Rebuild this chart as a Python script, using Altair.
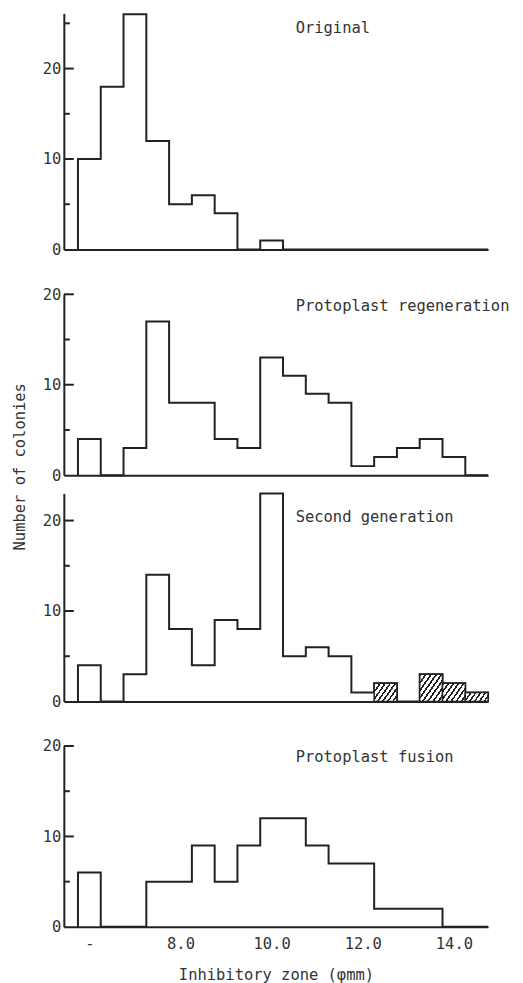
import math
import altair as alt
import pandas as pd

# ---------------- data ----------------
bin_centers = [6.0, 6.5, 7.0, 7.5, 8.0, 8.5, 9.0, 9.5, 10.0, 10.5,
               11.0, 11.5, 12.0, 12.5, 13.0, 13.5, 14.0, 14.5]
original = [10, 18, 26, 12, 5, 6, 4, 0, 1, 0, 0, 0, 0, 0, 0, 0, 0, 0]
regeneration = [4, 0, 3, 17, 8, 8, 4, 3, 13, 11, 9, 8, 1, 2, 3, 4, 2, 0]
second_gen = [4, 0, 3, 14, 8, 4, 9, 8, 23, 5, 6, 5, 1, 2, 0, 3, 2, 1]
fusion = [6, 0, 0, 5, 5, 9, 5, 9, 12, 12, 9, 7, 7, 2, 2, 2, 0, 0]
second_hatched = [12.5, 13.5, 14.0, 14.5]

x_tick_values = [6, 8, 10, 12, 14]
y_label_values = [0, 10, 20]
major_ticks = [10, 20]
minor_ticks = [5, 15, 25]

panel_titles = ["Original", "Protoplast regeneration", "Second generation", "Protoplast fusion"]

# ---------------- style ----------------
FONT = "DejaVu Sans Mono"
FS = 15.5
INK = "#222222"
TXT = "#333333"
BIN_W = 0.5
X_DOMAIN = [5.44, 14.75]
PX_PER_MM = 45.7
PX_PER_UNIT = 9.07
PLOT_W = (X_DOMAIN[1] - X_DOMAIN[0]) * PX_PER_MM


def step_frame(counts):
    xs, ys = [bin_centers[0] - BIN_W / 2], [0]
    for c, n in zip(bin_centers, counts):
        xs.append(c - BIN_W / 2)
        ys.append(n)
    xs.append(bin_centers[-1] + BIN_W / 2)
    ys.append(0)
    return pd.DataFrame({"x": xs, "y": ys})


def hatch_gradient(count, theta_deg=55, spacing=4.2):
    w = BIN_W * PX_PER_MM
    h = max(count, 0.5) * PX_PER_UNIT
    th = math.radians(theta_deg)
    s, c = math.sin(th), math.cos(th)
    D = w * s + h * c
    k = D / (w * w * s * s + h * h * c * c)
    a, b = w * s * k, h * c * k
    n = max(2, int(round(D / spacing)))
    stops = []
    for i in range(n):
        o0 = i / n
        o1 = (i + 0.38) / n
        o2 = (i + 1) / n
        stops += [
            alt.GradientStop(offset=o0, color=INK),
            alt.GradientStop(offset=o1, color=INK),
            alt.GradientStop(offset=o1, color="white"),
            alt.GradientStop(offset=o2, color="white"),
        ]
    return alt.LinearGradient(gradient="linear", stops=stops, x1=0, y1=0, x2=a, y2=b)


def panel(counts, ymax, title, title_y, top_gap=0.0, hatched=(), show_x=False, ytitle=None):
    plot_h = ymax * PX_PER_UNIT
    height = plot_h + top_gap
    xs = alt.Scale(domain=X_DOMAIN, nice=False, zero=False)
    ys = alt.Scale(domain=[0, ymax], nice=False, range=[height, top_gap])
    if show_x:
        xaxis = alt.Axis(values=x_tick_values, ticks=False, grid=False, domain=True,
                         domainColor=INK, domainWidth=2,
                         labelExpr="datum.value == 6 ? '-' : format(datum.value, '.1f')",
                         labelFont=FONT, labelFontSize=FS, labelColor=TXT, labelPadding=10,
                         title="Inhibitory zone (\u03c6mm)", titleFont=FONT, titleFontSize=FS,
                         titleFontWeight="normal", titleColor=TXT, titlePadding=15)
    else:
        xaxis = alt.Axis(labels=False, ticks=False, grid=False, domain=True,
                         domainColor=INK, domainWidth=2, title=None)
    yaxis = alt.Axis(values=y_label_values, ticks=False, grid=False, domain=True,
                     domainColor=INK, domainWidth=2, labelFont=FONT, labelFontSize=FS,
                     labelColor=TXT, labelPadding=3, title=None)

    line = alt.Chart(step_frame(counts)).mark_line(
        interpolate="step-after", color=INK, strokeWidth=2
    ).encode(
        x=alt.X("x:Q", scale=xs, axis=xaxis),
        y=alt.Y("y:Q", scale=ys, axis=yaxis),
    )

    layers = []
    for hc in hatched:
        n = counts[bin_centers.index(hc)]
        df = pd.DataFrame({"l": [hc - BIN_W / 2], "r": [hc + BIN_W / 2], "n": [n]})
        layers.append(
            alt.Chart(df).mark_bar(fill=hatch_gradient(n), stroke=INK, strokeWidth=1.5)
            .encode(x=alt.X("l:Q", scale=xs), x2="r:Q",
                    y=alt.Y("n:Q", scale=ys), y2=alt.datum(0))
        )

    maj = alt.Chart(pd.DataFrame({"v": [t for t in major_ticks if t <= ymax]})).mark_rule(
        color=INK, strokeWidth=2).encode(y=alt.Y("v:Q", scale=ys), x=alt.value(0), x2=alt.value(10))
    mnr = alt.Chart(pd.DataFrame({"v": [t for t in minor_ticks if t <= ymax]})).mark_rule(
        color=INK, strokeWidth=2).encode(y=alt.Y("v:Q", scale=ys), x=alt.value(0), x2=alt.value(6))

    ttl = alt.Chart(pd.DataFrame({"t": [title]})).mark_text(
        align="left", baseline="middle", font=FONT, fontSize=FS, color=TXT
    ).encode(x=alt.value(232.5), y=alt.value(top_gap + title_y), text="t:N")

    allayers = [line] + layers + [maj, mnr, ttl]
    if ytitle:
        yt = alt.Chart(pd.DataFrame({"t": [ytitle]})).mark_text(
            align="center", baseline="middle", angle=270, font=FONT, fontSize=FS, color=TXT
        ).encode(x=alt.value(-43.5), y=alt.value(top_gap + 173), text="t:N")
        allayers.append(yt)

    return alt.layer(*allayers).properties(width=PLOT_W, height=height)


GAP = 17.7
p1 = panel(original, 26.1, panel_titles[0], 15)
p2 = panel(regeneration, 20, panel_titles[1], 12, top_gap=44.7 - GAP, ytitle="Number of colonies")
p3 = panel(second_gen, 23.0, panel_titles[2], 24, hatched=second_hatched)
p4 = panel(fusion, 20, panel_titles[3], 11, top_gap=44.3 - GAP, show_x=True)

chart = alt.vconcat(p1, p2, p3, p4, spacing=GAP, bounds="flush").properties(
    padding={"top": 0, "left": 5, "right": 5, "bottom": 5}
).configure_view(stroke=None)

chart.save("out.html", embed_options={"renderer": "svg", "actions": False})
